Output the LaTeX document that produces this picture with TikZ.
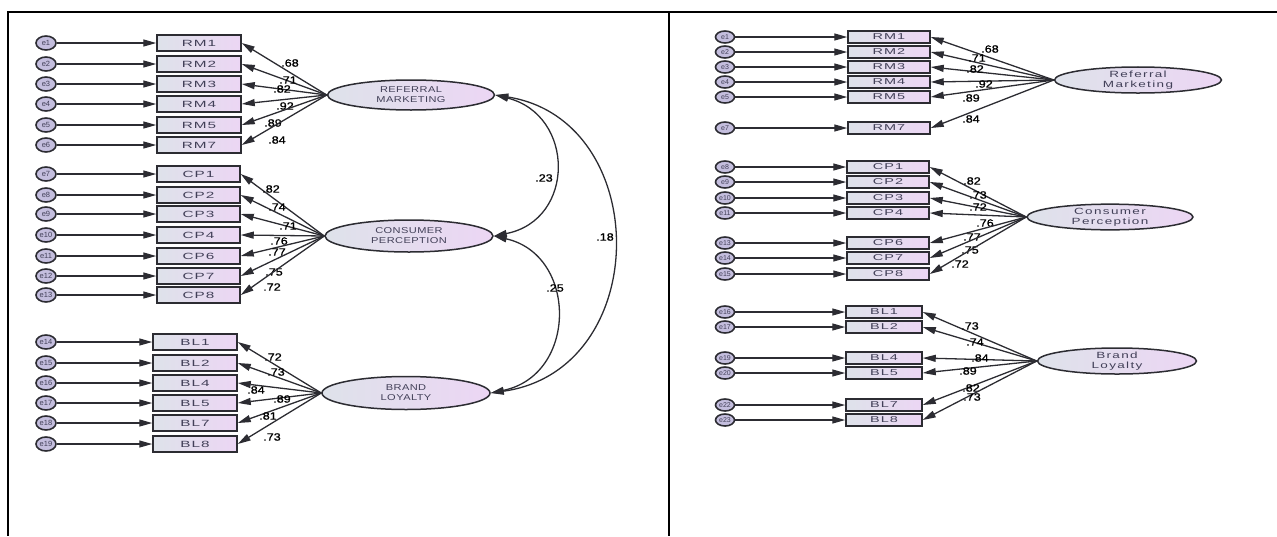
\documentclass[tikz,border=0pt]{standalone}
\usepackage{fontspec}
\setmainfont{Liberation Sans}
\newfontfamily\boxfont[FakeStretch=1.7,LetterSpace=12]{Liberation Sans}
\newfontfamily\latfont[FakeStretch=1.3,LetterSpace=5]{Liberation Sans}
\newfontfamily\latfontb[FakeStretch=1.5,LetterSpace=15]{Liberation Sans}
\newfontfamily\coeffont[FakeStretch=1.2,FakeBold=1]{Liberation Sans}
\usetikzlibrary{shapes.geometric, arrows.meta}
\definecolor{amosgray}{RGB}{222,226,234}
\definecolor{amospink}{RGB}{236,214,244}
\definecolor{amoserr}{RGB}{196,190,222}
\definecolor{amosline}{RGB}{44,44,50}
\definecolor{amostext}{RGB}{66,64,88}
\tikzstyle{observed} = [rectangle, draw=amosline, line width=1.5pt, left color=amosgray, right color=amospink,
                        minimum height=16pt, inner sep=0pt, text=amostext, font=\boxfont\fontsize{9}{9}\selectfont]
\tikzstyle{observedb} = [observed, minimum height=12pt, font=\boxfont\fontsize{8.5}{8.5}\selectfont]
\tikzstyle{latent}   = [ellipse, draw=amosline, line width=1.5pt, left color=amosgray, right color=amospink,
                        inner sep=0pt, align=center, text=amostext, font=\latfont\fontsize{8.5}{10}\selectfont]
\tikzstyle{latentb}  = [latent, font=\latfontb\fontsize{9}{10}\selectfont]
\tikzstyle{errnode}  = [ellipse, draw=amosline, line width=1.6pt, fill=amoserr, minimum width=20pt, minimum height=14pt,
                        inner sep=0pt, text=amostext, font=\fontsize{7.5}{7.5}\selectfont]
\tikzstyle{errnodeb} = [errnode, minimum width=19pt, minimum height=12pt, font=\fontsize{7}{7}\selectfont]
\tikzstyle{coef}     = [inner sep=0pt, font=\coeffont\fontsize{10.5}{10.5}\selectfont]
\tikzstyle{arrow}    = [-{Triangle[length=13pt,width=7pt]}, draw=amosline, line width=1.3pt]
\tikzstyle{covarrow} = [{Triangle[length=13pt,width=7pt]}-{Triangle[length=13pt,width=7pt]}, draw=amosline, line width=1.3pt]

\begin{document}
\begin{tikzpicture}[x=1pt, y=-1pt]
    \useasboundingbox (0,0) rectangle (1277,536);
    % table rules
    \draw[line width=2pt] (7,12) -- (1277,12);
    \draw[line width=2pt] (8,11) -- (8,536);
    \draw[line width=2pt] (669,11) -- (669,536);

    % left model
    \node (lRM) [latent, minimum width=167pt, minimum height=30pt] at (411,95) {REFERRAL\\MARKETING};
    \node (lCP) [latent, minimum width=168pt, minimum height=32pt] at (409,236) {CONSUMER\\PERCEPTION};
    \node (lBL) [latent, minimum width=168pt, minimum height=33pt] at (406,393) {BRAND\\LOYALTY};

    \foreach \nm/\er/\y/\val/\lx/\ly in {RM1/e1/43/.68/290/63, RM2/e2/64/.71/288/80, RM3/e3/84/.82/282/89,
                                       RM4/e4/104/.92/285/106, RM5/e5/125/.89/273/123, RM7/e6/145/.84/277/140}{
        \node (l\er) [errnode] at (46,\y) {\er};
        \node (l\nm) [observed, minimum width=84pt] at (199,\y) {\nm};
        \draw[arrow] (l\er) -- (l\nm);
        \draw[arrow] (lRM.west) -- (l\nm.east);
        \node (lc\nm) [coef] at (\lx,\ly) {\val};
    }
    \foreach \nm/\er/\y/\val/\lx/\ly in {CP1/e7/174/.82/271/189, CP2/e8/195/.74/277/207, CP3/e9/214/.71/288/226,
                                       CP4/e10/235/.76/279/241, CP6/e11/256/.77/277/252, CP7/e12/276/.75/274/272,
                                       CP8/e13/295/.72/272/287}{
        \node (l\er) [errnode] at (46,\y) {\er};
        \node (l\nm) [observed, minimum width=83pt] at (198.5,\y) {\nm};
        \draw[arrow] (l\er) -- (l\nm);
        \draw[arrow] (lCP.west) -- (l\nm.east);
        \node (lc\nm) [coef] at (\lx,\ly) {\val};
    }
    \foreach \nm/\er/\y/\val/\lx/\ly in {BL1/e14/342/.72/273/357, BL2/e15/363/.73/276/372, BL4/e16/383/.84/256/390,
                                       BL5/e17/403/.89/282/399, BL7/e18/423/.81/268/416, BL8/e19/444/.73/272/437}{
        \node (l\er) [errnode] at (46,\y) {\er};
        \node (l\nm) [observed, minimum width=84pt] at (195,\y) {\nm};
        \draw[arrow] (l\er) -- (l\nm);
        \draw[arrow] (lBL.west) -- (l\nm.east);
        \node (lc\nm) [coef] at (\lx,\ly) {\val};
    }

    \draw[covarrow] (lRM.east) .. controls +(80,20) and +(82,-16) .. (lCP.east);
    \draw[covarrow] (lCP.east) .. controls +(84,19) and +(87,-18) .. (lBL.east);
    \draw[covarrow] (lRM.east) .. controls +(158,25) and +(163,-23) .. (lBL.east);
    \node (lcov1) [coef] at (544,178) {.23};
    \node (lcov2) [coef] at (555,288) {.25};
    \node (lcov3) [coef] at (605,237) {.18};

    % right model
    \node (rRM) [latentb, minimum width=167pt, minimum height=23pt] at (1138,80) {Referral\\Marketing};
    \node (rCP) [latentb, minimum width=166pt, minimum height=24pt] at (1110,217) {Consumer\\Perception};
    \node (rBL) [latentb, minimum width=159pt, minimum height=22pt] at (1117,361) {Brand\\Loyalty};

    \foreach \nm/\er/\y/\val/\lx/\ly in {RM1/e1/37/.68/990/49, RM2/e2/52/.71/977/58, RM3/e3/67/.82/975/69,
                                       RM4/e4/82/.92/984/84, RM5/e5/97/.89/971/98, RM7/e7/128/.84/971/119}{
        \node (r\er) [errnodeb] at (725,\y) {\er};
        \node (r\nm) [observedb, minimum width=82pt] at (889,\y) {\nm};
        \draw[arrow] (r\er) -- (r\nm);
        \draw[arrow] (rRM.west) -- (r\nm.east);
        \node (rc\nm) [coef] at (\lx,\ly) {\val};
    }
    \foreach \nm/\er/\y/\val/\lx/\ly in {CP1/e8/167/.82/972/181, CP2/e9/182/.73/978/195, CP3/e10/198/.72/978/207,
                                       CP4/e11/213/.76/985/223, CP6/e13/243/.77/972/237, CP7/e14/258/.75/970/250,
                                       CP8/e15/274/.72/960/264}{
        \node (r\er) [errnodeb] at (725,\y) {\er};
        \node (r\nm) [observedb, minimum width=82pt] at (888,\y) {\nm};
        \draw[arrow] (r\er) -- (r\nm);
        \draw[arrow] (rCP.west) -- (r\nm.east);
        \node (rc\nm) [coef] at (\lx,\ly) {\val};
    }
    \foreach \nm/\er/\y/\val/\lx/\ly in {BL1/e16/312/.73/970/326, BL2/e17/327/.74/975/342, BL4/e19/358/.84/980/358,
                                       BL5/e20/373/.89/968/371, BL7/e22/405/.82/971/388, BL8/e23/420/.73/972/397}{
        \node (r\er) [errnodeb] at (725,\y) {\er};
        \node (r\nm) [observedb, minimum width=76pt] at (884,\y) {\nm};
        \draw[arrow] (r\er) -- (r\nm);
        \draw[arrow] (rBL.west) -- (r\nm.east);
        \node (rc\nm) [coef] at (\lx,\ly) {\val};
    }
\end{tikzpicture}
\end{document}
